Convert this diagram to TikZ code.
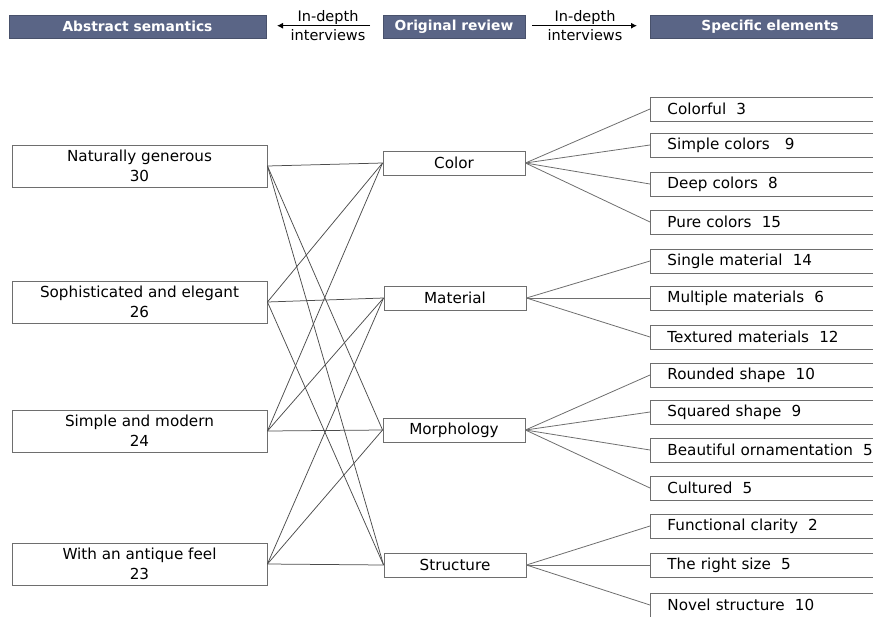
\documentclass[tikz,border=0pt]{standalone}
\usepackage{fontspec}
\setmainfont{DejaVu Sans}
\usetikzlibrary{arrows.meta}
\definecolor{hdr}{HTML}{5A6586}
\definecolor{edge}{HTML}{6E6E6E}
\tikzset{
  hdrbox/.style={fill=hdr, draw=hdr!80!black, line width=0.6pt, text=white, font=\fontsize{13.8}{15}\selectfont\bfseries, inner sep=0pt, minimum height=23pt},
  leftbox/.style={draw=edge, line width=0.9pt, minimum width=255pt, minimum height=42pt, inner sep=0pt, align=center, font=\fontsize{15.2}{20}\selectfont},
  midbox/.style={draw=edge, line width=0.9pt, minimum width=142pt, minimum height=24pt, inner sep=0pt, font=\fontsize{15.2}{17}\selectfont},
  rightbox/.style={draw=edge, line width=0.9pt, minimum width=260pt, minimum height=24pt, inner sep=0pt, text width=226pt, align=left, font=\fontsize{15.2}{17}\selectfont},
  link/.style={draw=black!70, line width=0.75pt},
  fan/.style={draw=edge, line width=0.8pt},
  ivlabel/.style={font=\fontsize{14.5}{16}\selectfont, inner sep=0pt}
}
\begin{document}
\begin{tikzpicture}[x=1pt,y=-1pt]
\useasboundingbox (0,0) rectangle (873,616);
\clip (0,0) rectangle (873,616);
% header
\node[hdrbox, minimum width=257pt] (hA) at (137.5,26.5) {Abstract semantics};
\node[hdrbox, minimum width=142pt] (hO) at (454,26.5) {Original review};
\node[hdrbox, minimum width=240pt] (hS) at (770,26.5) {Specific elements};
\coordinate (a1s) at (370,25.7);
\coordinate (a1e) at (277,25.7);
\coordinate (a2s) at (532,25.7);
\coordinate (a2e) at (637,25.7);
\draw[line width=1pt, -{Latex[length=6pt,width=6pt]}] (a1s) -- (a1e);
\draw[line width=1pt, -{Latex[length=6pt,width=6pt]}] (a2s) -- (a2e);
\node[ivlabel, anchor=base] (t1) at (328,21.5) {In-depth};
\node[ivlabel, anchor=base] (t2) at (328,40) {interviews};
\node[ivlabel, anchor=base] (t3) at (585,21.5) {In-depth};
\node[ivlabel, anchor=base] (t4) at (585,40) {interviews};
% left boxes
\node[leftbox] (L1) at (139.5,166) {Naturally generous\\30};
\node[leftbox] (L2) at (139.5,302) {Sophisticated and elegant\\26};
\node[leftbox] (L3) at (139.5,431) {Simple and modern\\24};
\node[leftbox] (L4) at (139.5,564) {With an antique feel\\23};
% middle boxes
\node[midbox] (M1) at (454,163) {Color};
\node[midbox] (M2) at (455,298) {Material};
\node[midbox] (M3) at (454,430) {Morphology};
\node[midbox] (M4) at (455,565) {Structure};
% right boxes
\node[rightbox, anchor=west] (R1) at (650,109) {Colorful\ \ 3};
\node[rightbox, anchor=west] (R2) at (650,145) {Simple colors\ \ \ 9};
\node[rightbox, anchor=west] (R3) at (650,184) {Deep colors\ \ 8};
\node[rightbox, anchor=west] (R4) at (650,222) {Pure colors\ \ 15};
\node[rightbox, anchor=west] (R5) at (650,261) {Single material\ \ 14};
\node[rightbox, anchor=west] (R6) at (650,298) {Multiple materials\ \ 6};
\node[rightbox, anchor=west] (R7) at (650,337) {Textured materials\ \ 12};
\node[rightbox, anchor=west] (R8) at (650,375) {Rounded shape\ \ 10};
\node[rightbox, anchor=west] (R9) at (650,412) {Squared shape\ \ 9};
\node[rightbox, anchor=west] (R10) at (650,450) {Beautiful ornamentation\ \ 5};
\node[rightbox, anchor=west] (R11) at (650,488) {Cultured\ \ 5};
\node[rightbox, anchor=west] (R12) at (650,526) {Functional clarity\ \ 2};
\node[rightbox, anchor=west] (R13) at (650,565) {The right size\ \ 5};
\node[rightbox, anchor=west] (R14) at (650,605) {Novel structure\ \ 10};
% left-middle links
\foreach \a/\b in {L1/M1,L1/M3,L1/M4,L2/M1,L2/M2,L2/M4,L3/M1,L3/M2,L3/M3,L4/M2,L4/M3,L4/M4}
  \draw[link] (\a.east) -- (\b.west);
% fans
\foreach \a/\b in {M1/R1,M1/R2,M1/R3,M1/R4,M2/R5,M2/R6,M2/R7,M3/R8,M3/R9,M3/R10,M3/R11,M4/R12,M4/R13,M4/R14}
  \draw[fan] (\a.east) -- (\b.west);
\end{tikzpicture}
\end{document}
